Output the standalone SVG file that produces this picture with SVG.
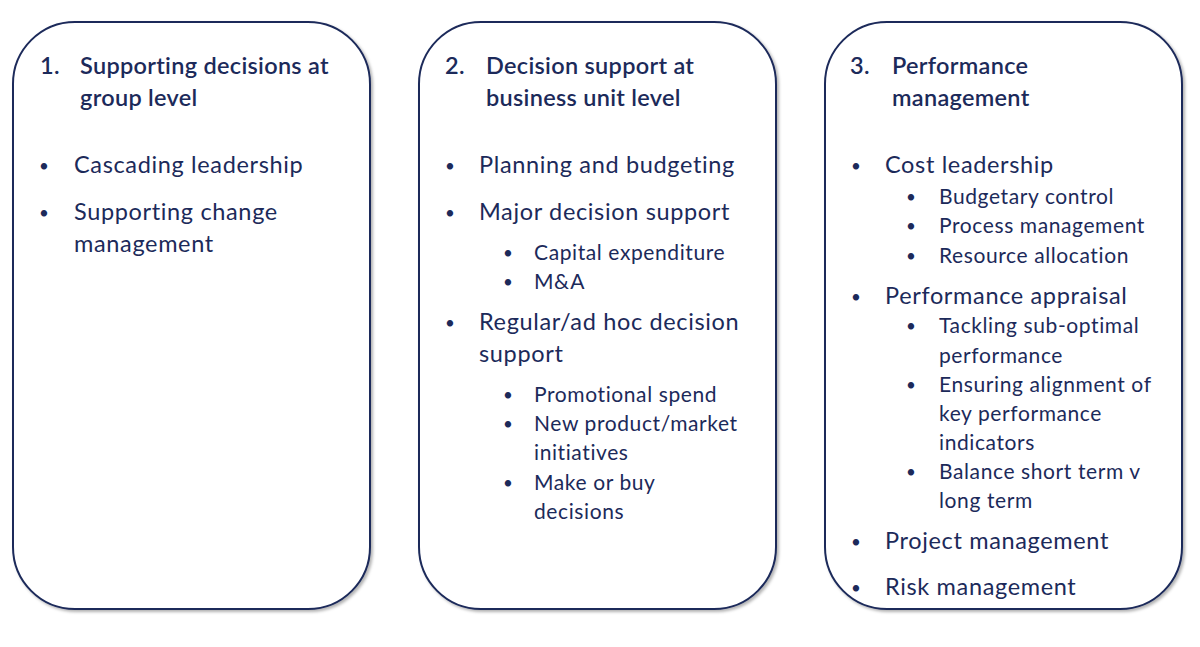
<svg xmlns="http://www.w3.org/2000/svg" width="1200" height="647" viewBox="0 0 1200 647">
<style>
.box{fill:#fff;stroke:#1c2a5a;stroke-width:2}
text{font-family:Lato,"Liberation Sans",sans-serif;fill:#1c2a5a}
.t{font-size:23.5px;font-weight:600;letter-spacing:0.3px}
.b{font-size:23.5px;letter-spacing:0.65px}
.s{font-size:21px;letter-spacing:0.6px}
.d{font-size:17px}
</style>
<defs><filter id="sh" x="-5%" y="-5%" width="110%" height="110%"><feDropShadow dx="2" dy="2" stdDeviation="1.5" flood-color="#000" flood-opacity="0.3"/></filter></defs>
<rect width="1200" height="647" fill="#fff"/>
<g id="node1">
<rect class="box" filter="url(#sh)" x="13" y="22" width="357" height="587" rx="62"/>
<text class="t" x="40" y="74">1.</text><text class="t" x="80" y="74">Supporting decisions at</text>
<text class="t" x="80" y="106">group level</text>
<text class="d" x="39" y="172">•</text><text class="b" x="74" y="173">Cascading leadership</text>
<text class="d" x="39" y="219">•</text><text class="b" x="74" y="220">Supporting change</text>
<text class="b" x="74" y="252">management</text>
</g>
<g id="node2">
<rect class="box" filter="url(#sh)" x="419" y="22" width="357" height="587" rx="62"/>
<text class="t" x="445" y="74">2.</text><text class="t" x="486" y="74">Decision support at</text>
<text class="t" x="486" y="106">business unit level</text>
<text class="d" x="445" y="172">•</text><text class="b" x="479" y="173">Planning and budgeting</text>
<text class="d" x="445" y="219">•</text><text class="b" x="479" y="220">Major decision support</text>
<text class="d" x="503" y="259">•</text><text class="s" x="534" y="260">Capital expenditure</text>
<text class="d" x="503" y="288">•</text><text class="s" x="534" y="289">M&amp;A</text>
<text class="d" x="445" y="329">•</text><text class="b" x="479" y="330">Regular/ad hoc decision</text>
<text class="b" x="479" y="362">support</text>
<text class="d" x="503" y="401">•</text><text class="s" x="534" y="402">Promotional spend</text>
<text class="d" x="503" y="430">•</text><text class="s" x="534" y="431">New product/market</text>
<text class="s" x="534" y="460">initiatives</text>
<text class="d" x="503" y="489">•</text><text class="s" x="534" y="490">Make or buy</text>
<text class="s" x="534" y="519">decisions</text>
</g>
<g id="node3">
<rect class="box" filter="url(#sh)" x="825" y="22" width="357" height="587" rx="62"/>
<text class="t" x="850" y="74">3.</text><text class="t" x="892" y="74">Performance</text>
<text class="t" x="892" y="106">management</text>
<text class="d" x="851" y="172">•</text><text class="b" x="885" y="173">Cost leadership</text>
<text class="d" x="906" y="203">•</text><text class="s" x="939" y="204">Budgetary control</text>
<text class="d" x="906" y="232">•</text><text class="s" x="939" y="233">Process management</text>
<text class="d" x="906" y="262">•</text><text class="s" x="939" y="263">Resource allocation</text>
<text class="d" x="851" y="303">•</text><text class="b" x="885" y="304">Performance appraisal</text>
<text class="d" x="906" y="332">•</text><text class="s" x="939" y="333">Tackling sub-optimal</text>
<text class="s" x="939" y="363">performance</text>
<text class="d" x="906" y="391">•</text><text class="s" x="939" y="392">Ensuring alignment of</text>
<text class="s" x="939" y="421">key performance</text>
<text class="s" x="939" y="450">indicators</text>
<text class="d" x="906" y="478">•</text><text class="s" x="939" y="479">Balance short term v</text>
<text class="s" x="939" y="508">long term</text>
<text class="d" x="851" y="548">•</text><text class="b" x="885" y="549">Project management</text>
<text class="d" x="851" y="594">•</text><text class="b" x="885" y="595">Risk management</text>
</g>
<g id="connectors"/>
</svg>
